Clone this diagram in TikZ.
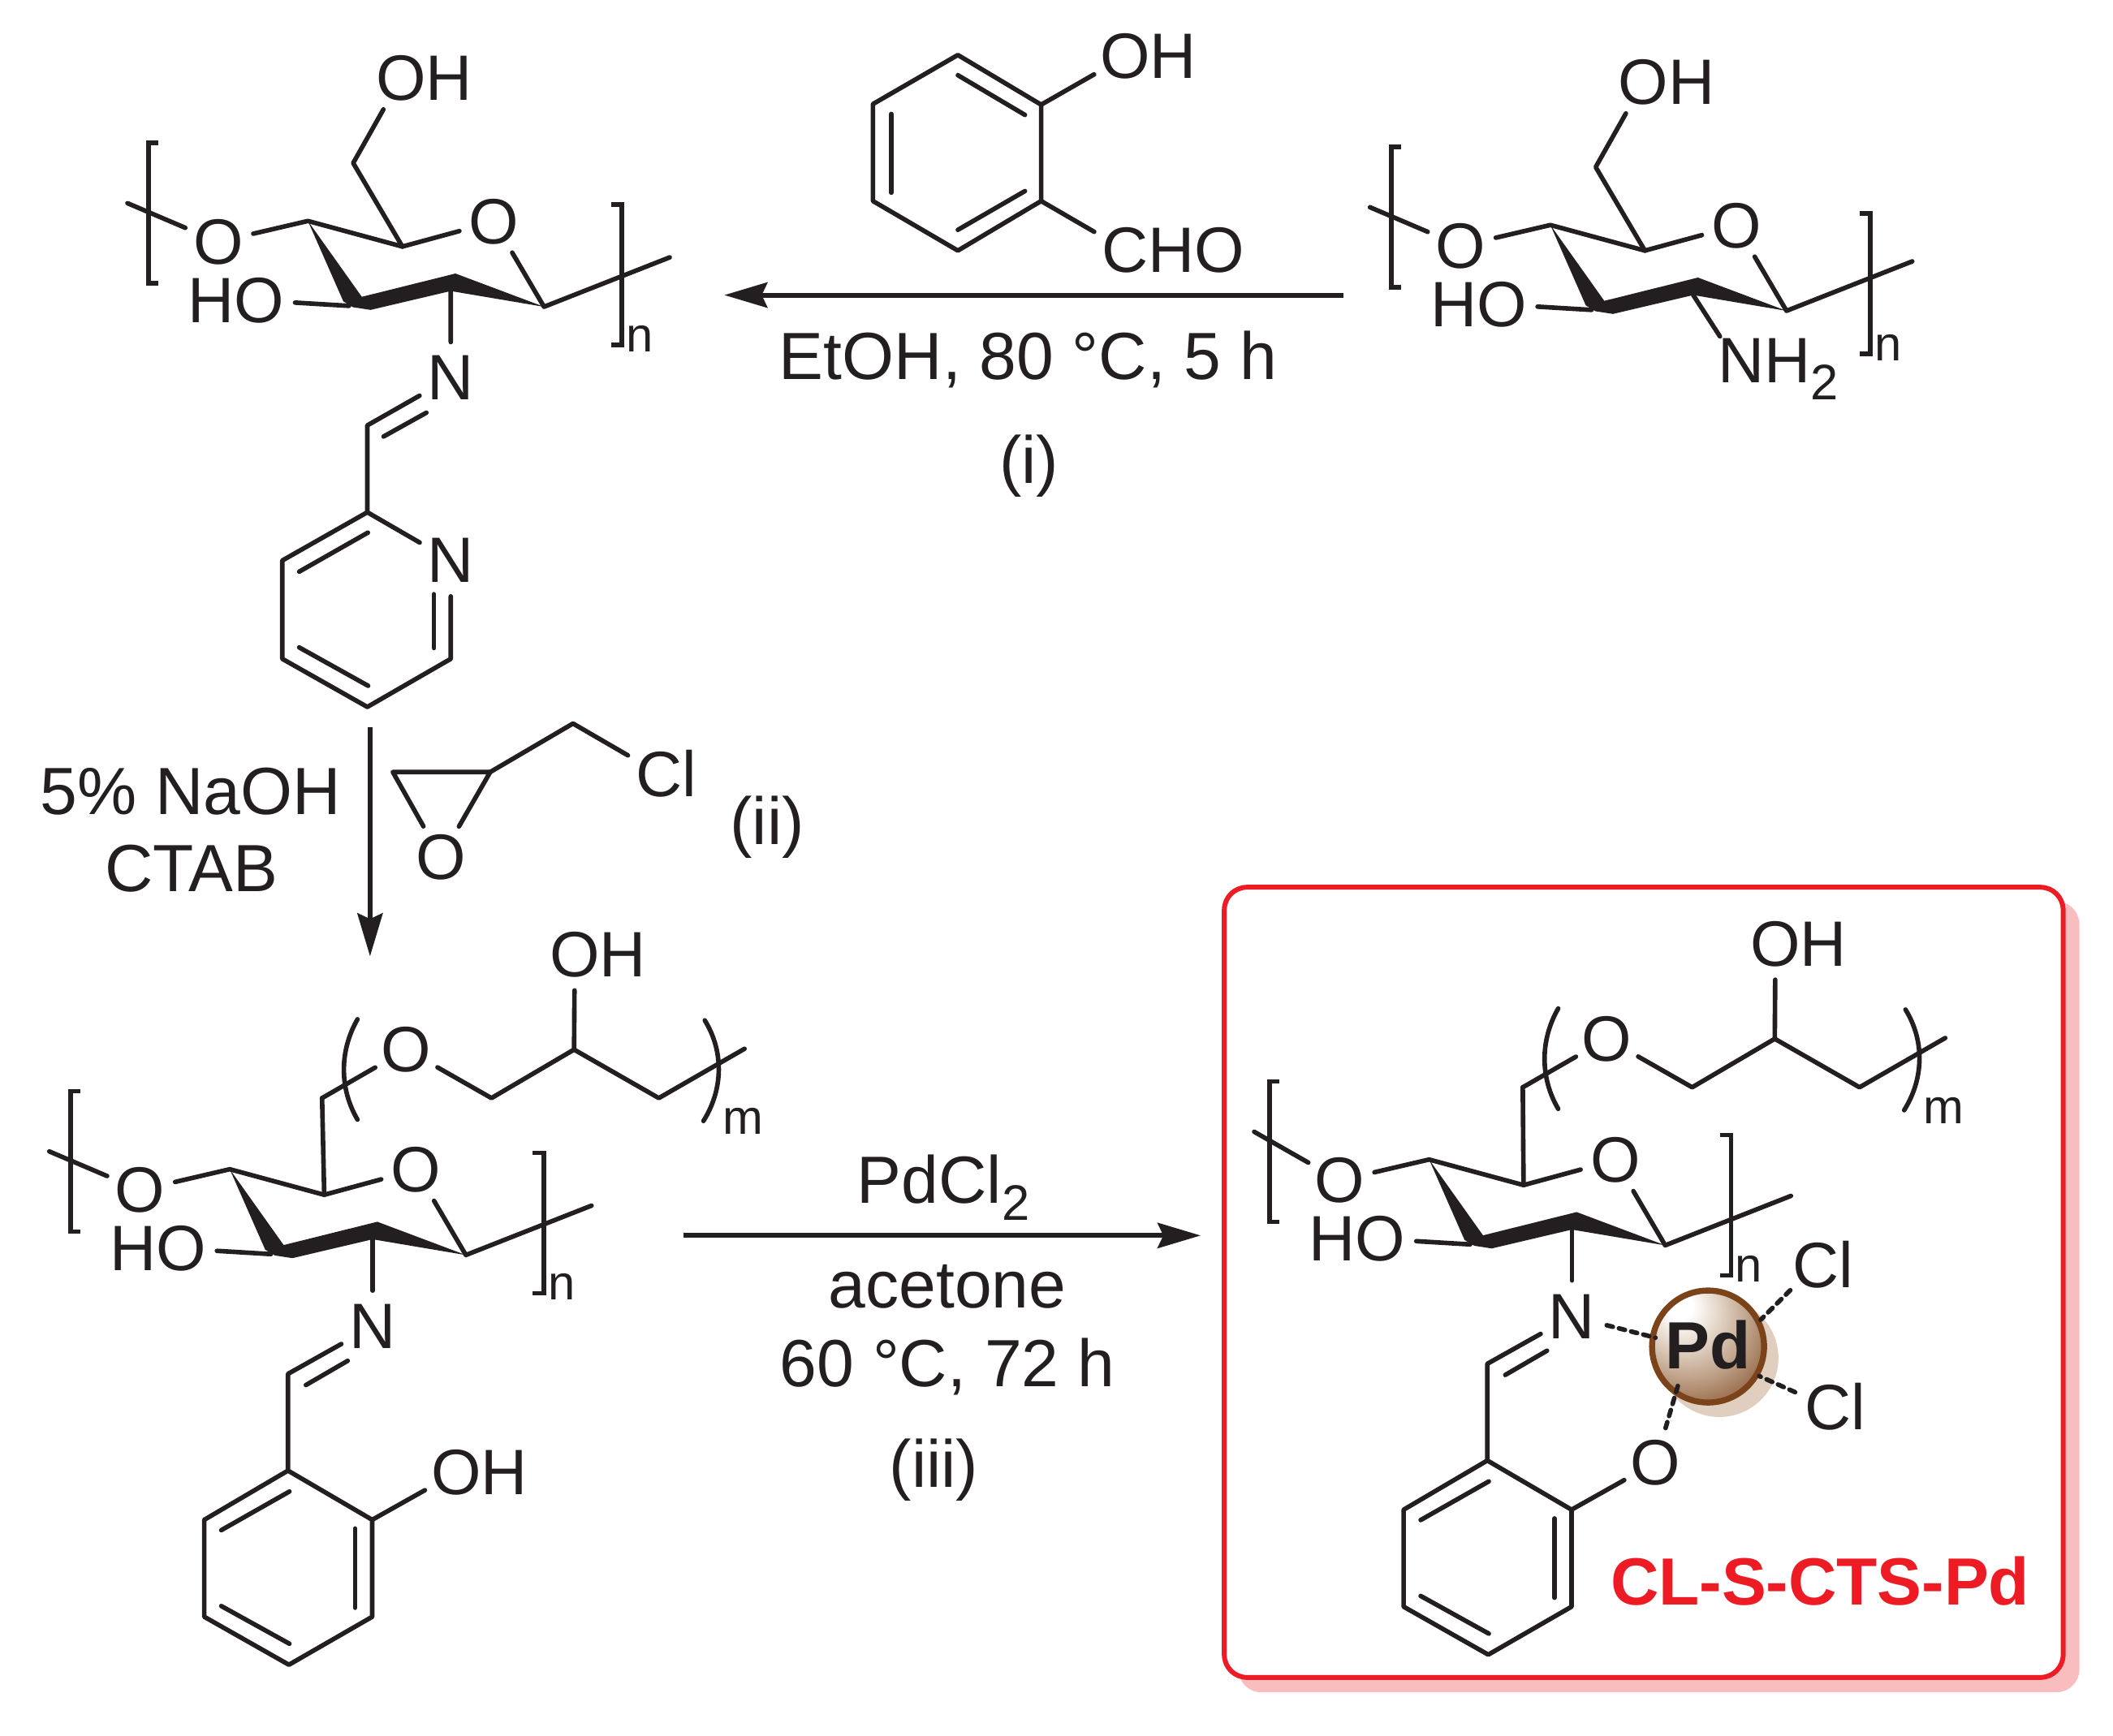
\documentclass[tikz,border=0pt]{standalone}
\usepackage{fontspec}
\setmainfont{Liberation Sans}
\usepackage{amsmath}
\usetikzlibrary{arrows.meta}
\definecolor{inkdark}{HTML}{231F20}
\definecolor{boxred}{HTML}{ED1C24}
\definecolor{boxpink}{HTML}{F9BDBF}
\definecolor{pdedge}{HTML}{7B431A}
\definecolor{pdhalo}{HTML}{E0CFBF}
\pgfdeclareradialshading{pdball}{\pgfpoint{-14bp}{20bp}}{color(0bp)=(white); color(6bp)=(white); color(15bp)=(pdhalo!80); color(26bp)=(pdhalo!70!pdedge); color(38bp)=(pdhalo!25!pdedge); color(52bp)=(pdedge); color(70bp)=(pdedge)}
\newcommand{\lowsub}[1]{\raisebox{-6pt}{\fontsize{17.5}{17}\selectfont #1}}
\newcommand{\sugarunit}[3]{
\node[atom] (#1-o4) at (162,179.5) {O};
\node[atom] (#1-o5) at (366.6,164.5) {O};
\node[atom] (#1-oh3) at (192.4,223) {\llap{H}O};
\coordinate (#1-tl) at (#3);
\coordinate (#1-c4) at (228.5,164);
\coordinate (#1-c5) at (298.6,183);
\coordinate (#1-c3) at (259,227);
\coordinate (#1-c2) at (334.5,216);
\coordinate (#1-c1) at (403.7,227.7);
\coordinate (#1-tr) at (497,191);
\fill[wedge] (#1-c4) -- (254.8,223.7) -- (262,228) -- (275,230) -- (#1-c2) -- (#1-c1) -- (338,203) -- (268.5,220.3) -- cycle;
\draw[bond] (#1-tl) -- (#1-o4) -- (#1-c4) -- (#1-c5) -- (#1-o5) -- (#1-c1) -- (#1-tr);
\draw[bond] (#1-oh3) -- (#1-c3);
\draw[brack] (117.6,106) -- (110.3,106) -- (110.3,210.3) -- (117.6,210.3);
\begin{scope}[shift={(#2)}]
\draw[brack] (453.3,151.8) -- (461.5,151.8) -- (461.5,256) -- (453.3,256);
\node[sublabel] (#1-n) at (474.7,251.4) {n};
\end{scope}
}
\newcommand{\sidechain}[1]{
\coordinate (#1-ch2) at (239,815);
\node[atom] (#1-oe) at (301.5,779) {O};
\coordinate (#1-ca) at (364.7,815);
\coordinate (#1-cb) at (426,779);
\node[atom] (#1-ohb) at (426.5,708.5) {O\rlap{H}};
\coordinate (#1-cc) at (488.9,815);
\coordinate (#1-te) at (552.5,778.4);
\draw[bond] (#1-ch2) -- (#1-oe) -- (#1-ca) -- (#1-cb) -- (#1-cc) -- (#1-te);
\draw[bond] (#1-cb) -- (#1-ohb);
\draw[bond] (265.3,756.5) .. controls (251.8,780) and (251.8,808) .. (265.3,831);
\draw[bond] (523,757.3) .. controls (537,780) and (537,808) .. (522,832);
\node[sublabel] (#1-m) at (551.4,832) {m};
}
\newcommand{\salring}[2]{
\node[atom] (#1-n) at (276.5,984.5) {N};
\node[atom] (#1-oa) at (338.5,1093) {#2};
\coordinate (#1-cn) at (213.7,1019.7);
\coordinate (#1-r1) at (213.7,1091.5);
\coordinate (#1-r2) at (276.2,1128);
\coordinate (#1-r3) at (276.2,1200);
\coordinate (#1-r4) at (214.4,1235.6);
\coordinate (#1-r5) at (151.6,1200);
\coordinate (#1-r6) at (151.6,1128);
\draw[bond] (#1-n) -- (#1-cn) -- (#1-r1) -- (#1-r2) -- (#1-r3) -- (#1-r4) -- (#1-r5) -- (#1-r6) -- (#1-r1);
\draw[bond] (#1-r2) -- (#1-oa);
\draw[bond] (227,1028) -- (258,1010);
\draw[bond] (263.5,1134.5) -- (263.5,1193.3);
\draw[bond] (164.2,1135.7) -- (214.8,1107);
\draw[bond] (164.2,1192) -- (214.8,1220);
}
\begin{document}
\begin{tikzpicture}[
   x=0.0166cm,y=-0.0166cm,
   color=inkdark,
   bond/.style={line width=1.6pt,line cap=round,line join=round},
   brack/.style={line width=1.6pt,line join=miter},
   wedge/.style={fill=inkdark,line join=round},
   atom/.style={circle,inner sep=0pt,minimum size=0.87cm,font=\fontsize{22.5}{24}\selectfont},
   sublabel/.style={inner sep=0pt,font=\fontsize{17}{18}\selectfont},
   label/.style={inner sep=0pt,anchor=base,font=\fontsize{23.4}{27}\selectfont},
   rxn/.style={-{Stealth[length=0.53cm,width=0.31cm,inset=0.07cm]},line width=1.7pt},
   coord/.style={line width=1.6pt,line cap=round,dash pattern=on 2.2pt off 2.2pt},
   pdsphere/.style={circle,inner sep=0pt,minimum size=1.38cm,draw=pdedge,line width=2.1pt,shading=pdball,font=\bfseries\fontsize{23.4}{27}\selectfont}]
\useasboundingbox (0,0) rectangle (1568,1288);
\fill[boxpink,rounded corners=0.28cm] (919,669) rectangle (1543,1256);
\draw[boxred,fill=white,line width=1.7pt,rounded corners=0.28cm] (908.5,658.5) rectangle (1531,1245);

\sugarunit{im}{0,0}{94.6,150.8}
\coordinate (im-ch2) at (262.1,121);
\node[atom] (im-oh) at (297.6,58) {O\rlap{H}};
\node[atom] (im-n) at (334.5,280.5) {N};
\coordinate (im-cn) at (272.6,315.7);
\coordinate (py-c2) at (272.6,380.2);
\node[atom] (py-n) at (334.5,416) {N};
\coordinate (py-c6) at (334.5,489);
\coordinate (py-c5) at (272.6,524.7);
\coordinate (py-c4) at (209.5,489);
\coordinate (py-c3) at (209.5,416);
\draw[bond] (im-c5) -- (im-ch2) -- (im-oh);
\draw[bond] (im-c2) -- (im-n) -- (im-cn) -- (py-c2) -- (py-n) -- (py-c6) -- (py-c5) -- (py-c4) -- (py-c3) -- (py-c2);
\draw[bond] (284.6,324) -- (316.4,306.3);
\draw[bond] (322,441) -- (322,481);
\draw[bond] (222,424.3) -- (273,395.3);
\draw[bond] (222,480.5) -- (273.2,509);

\begin{scope}[shift={(922,3)}]
\sugarunit{am}{4.5,3.5}{94.6,150.8}
\coordinate (am-ch2) at (262.1,121);
\node[atom] (am-oh) at (297.6,58) {O\rlap{H}};
\node[atom] (am-n) at (370,271) {N\rlap{H\lowsub{2}}};
\draw[bond] (am-c5) -- (am-ch2) -- (am-oh);
\draw[bond] (am-c2) -- (am-n);
\end{scope}

\coordinate (sa-c1) at (710.8,40.8);
\coordinate (sa-c2) at (772.6,77.7);
\coordinate (sa-c3) at (772.6,149.2);
\coordinate (sa-c4) at (710.8,186);
\coordinate (sa-c5) at (647.8,149.2);
\coordinate (sa-c6) at (647.8,77.2);
\node[atom] (sa-oh) at (835,42) {O\rlap{H}};
\node[atom] (sa-cho) at (835,185.4) {C\rlap{HO}};
\draw[bond] (sa-c1) -- (sa-c2) -- (sa-c3) -- (sa-c4) -- (sa-c5) -- (sa-c6) -- cycle;
\draw[bond] (sa-c2) -- (sa-oh);
\draw[bond] (sa-c3) -- (sa-cho);
\draw[bond] (710.8,55.8) -- (760.6,85.3);
\draw[bond] (661.4,84.6) -- (661.4,143);
\draw[bond] (710.8,170.6) -- (760.6,141.8);
\coordinate (step1-a) at (997,219);
\coordinate (step1-b) at (537.5,219);
\draw[rxn] (step1-a) -- (step1-b);
\node[label] (step1-cond) at (763,281.7) {EtOH, 80 °C, 5 h};
\node[label] (step1-tag) at (763.7,359) {(i)};

\coordinate (step2-a) at (274.6,540);
\coordinate (step2-b) at (274.6,709.8);
\draw[rxn] (step2-a) -- (step2-b);
\node[label] (step2-base) at (141.5,604.3) {5\% NaOH};
\node[label] (step2-ctab) at (142,661.6) {CTAB};
\coordinate (ep-c1) at (291.5,573);
\coordinate (ep-c2) at (363.8,573);
\coordinate (ep-c3) at (425.2,537);
\node[atom] (ep-o) at (327.3,636.5) {O};
\node[atom] (ep-cl) at (489,574) {C\rlap{l}};
\draw[bond] (ep-o) -- (ep-c1) -- (ep-c2) -- (ep-o);
\draw[bond] (ep-c2) -- (ep-c3) -- (ep-cl);
\node[label] (step2-tag) at (569.3,626.5) {(ii)};

\begin{scope}[shift={(-58,703.8)}]
\sugarunit{sa}{0,0}{94.6,150.8}
\end{scope}
\sidechain{sa}
\draw[bond] (sa-c5) -- (sa-ch2);
\salring{sl}{O\rlap{H}}
\draw[bond] (sa-c2) -- (sl-n);

\coordinate (step3-a) at (507,917);
\coordinate (step3-b) at (891,917);
\draw[rxn] (step3-a) -- (step3-b);
\node[label] (step3-pd) at (700,893) {PdCl\lowsub{2}};
\node[label] (step3-sol) at (703,971) {acetone};
\node[label] (step3-cond) at (703,1029) {60 °C, 72 h};
\node[label] (step3-tag) at (693,1104) {(iii)};

\begin{scope}[shift={(832,696.6)}]
\sugarunit{pd}{-9,-6}{98.7,143.4}
\end{scope}
\begin{scope}[shift={(891,-8)}]
\sidechain{pd}
\end{scope}
\draw[bond] (pd-c5) -- (pd-ch2);
\begin{scope}[shift={(890,-7.5)}]
\salring{pl}{O}
\end{scope}
\draw[bond] (pd-c2) -- (pl-n);
\fill[pdhalo] (1275.9,1007.9) circle (43.8);
\node[pdsphere] (pd-m) at (1267.5,999.4) {\raisebox{1.5pt}{Pd}};
\node[atom] (pd-cl1) at (1347.4,938.8) {C\rlap{l}};
\node[atom] (pd-cl2) at (1356.4,1044.2) {C\rlap{l}};
\draw[coord,shorten >=-2pt] (pl-n) -- (pd-m.170);
\draw[coord] (pd-cl1) -- (pd-m.27);
\draw[coord] (pd-cl2) -- (pd-m.-30);
\draw[coord,shorten >=-5.5pt] (pl-oa) -- (pd-m.236);
\node[label,boxred,font=\bfseries\fontsize{23.4}{27}\selectfont] (pd-tag) at (1350.6,1191) {CL-S-CTS-Pd};
\end{tikzpicture}
\end{document}
